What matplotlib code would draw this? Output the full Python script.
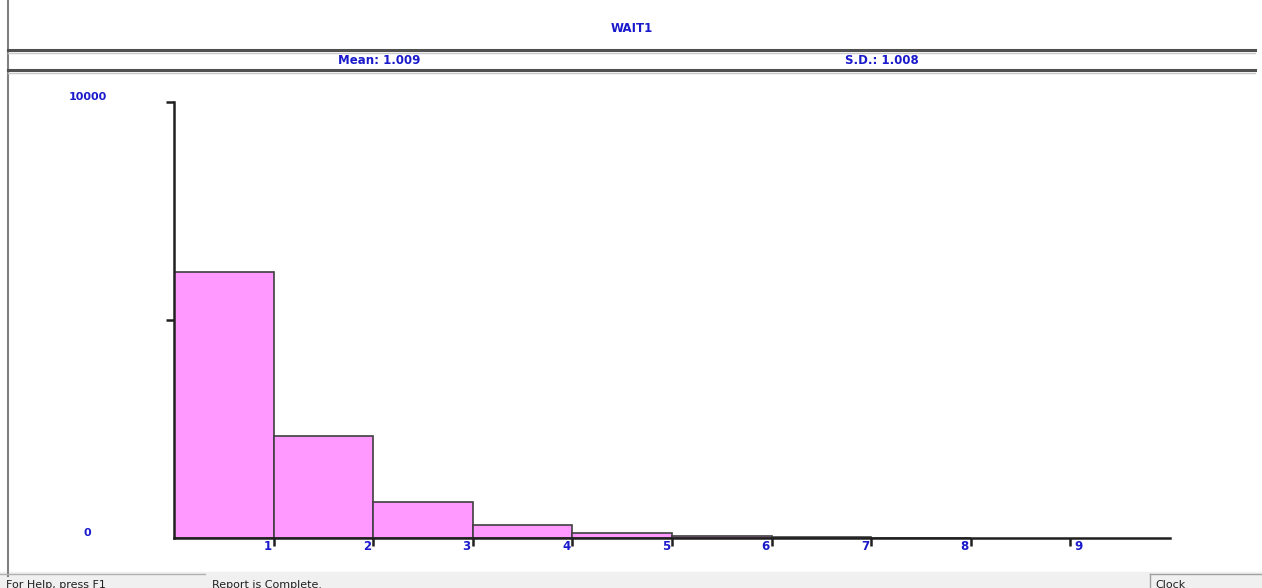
import matplotlib.pyplot as plt
from matplotlib.lines import Line2D
from matplotlib.patches import Rectangle

# histogram of WAIT1, bin width 1
bin_left = [0, 1, 2, 3, 4, 5, 6, 7]
counts = [6100, 2340, 830, 300, 115, 40, 15, 8]
x_ticks = [1, 2, 3, 4, 5, 6, 7, 8, 9]
y_ticks = [5000, 10000]
y_labels = {0: "0", 10000: "10000"}
title = "WAIT1"
mean_txt = "Mean: 1.009"
sd_txt = "S.D.: 1.008"

blue = "#1a1acc"
narrow = ["Liberation Sans Narrow", "DejaVu Sans"]

fig = plt.figure(figsize=(12.62, 5.88), dpi=100)
W, H = 1262, 588

def fx(px):
    return px / W

def fy(py):
    return 1 - py / H

# window frame / header
fig.add_artist(Line2D([fx(8), fx(8)], [fy(0), fy(576)], color="#808080", lw=1.5))
for yy in (50, 70):
    fig.add_artist(Line2D([fx(8), fx(1255)], [fy(yy), fy(yy)], color="#505050", lw=2.2))
    fig.add_artist(Line2D([fx(8), fx(1255)], [fy(yy + 2.5), fy(yy + 2.5)], color="#c8c8c8", lw=1))
fig.text(fx(632), fy(28), title, color=blue, fontsize=8.5, fontweight="bold",
         family=narrow, ha="center", va="center")
fig.text(fx(379), fy(60), mean_txt, color=blue, fontsize=8.5, fontweight="bold",
         family=narrow, ha="center", va="center")
fig.text(fx(882), fy(60), sd_txt, color=blue, fontsize=8.5, fontweight="bold",
         family=narrow, ha="center", va="center")

# status bar
fig.add_artist(Rectangle((0, 0), 1, fy(572), transform=fig.transFigure,
                         color="#f0f0f0", zorder=0))
fig.add_artist(Line2D([0, fx(205)], [fy(574), fy(574)], color="#b0b0b0", lw=1))
fig.add_artist(Line2D([fx(1150), fx(1150)], [0, fy(574)], color="#a0a0a0", lw=1))
fig.add_artist(Line2D([fx(1150), fx(1262)], [fy(574), fy(574)], color="#a0a0a0", lw=1))
fig.text(fx(6), fy(585), "For Help, press F1", fontsize=8, color="#202020", va="center")
fig.text(fx(212), fy(585), "Report is Complete.", fontsize=8, color="#202020", va="center")
fig.text(fx(1155), fy(585), "Clock", fontsize=8, color="#202020", va="center")

# plot area
ax = fig.add_axes([fx(174), fy(538), fx(1170 - 174), (538 - 102) / H])
ax.bar(bin_left, counts, width=1, align="edge", color="#ff99ff",
       edgecolor="#404040", linewidth=1.2, zorder=2)
ax.set_xlim(0, 10)
ax.set_ylim(0, 10000)
for s in ("top", "right"):
    ax.spines[s].set_visible(False)
for s in ("left", "bottom"):
    ax.spines[s].set_linewidth(1.8)
    ax.spines[s].set_color("#202020")
    ax.spines[s].set_zorder(3)
ax.set_xticks(x_ticks)
ax.set_xticklabels([])
ax.set_yticks(y_ticks)
ax.set_yticklabels([])
ax.tick_params(axis="both", direction="out", length=6, width=1.8, color="#202020")

for t in x_ticks:
    if t == 9:
        ax.text(t + 0.04, -0.005, str(t), transform=ax.get_xaxis_transform(),
                ha="left", va="top", color=blue, fontsize=8.5, fontweight="bold", family=narrow)
    else:
        ax.text(t - 0.02, -0.005, str(t), transform=ax.get_xaxis_transform(),
                ha="right", va="top", color=blue, fontsize=8.5, fontweight="bold", family=narrow)
for v, lab in y_labels.items():
    ax.text(-0.087, v, lab, transform=ax.get_yaxis_transform(), ha="center",
            va="bottom", color=blue, fontsize=8, fontweight="bold")

fig.savefig("out.png", dpi=100)
